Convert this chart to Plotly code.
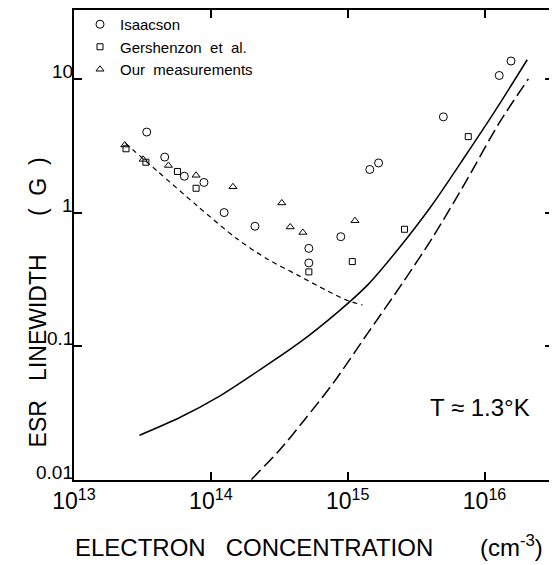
import math
import plotly.graph_objects as go

# ---------------- data ----------------
isaacson_x = [3.4e13, 4.6e13, 6.4e13, 8.9e13, 1.25e14, 2.1e14, 5.2e14, 5.2e14, 8.9e14,
              1.45e15, 1.68e15, 5.0e15, 1.28e16, 1.56e16]
isaacson_y = [4.0, 2.6, 1.87, 1.68, 1.0, 0.79, 0.54, 0.42, 0.66,
              2.1, 2.35, 5.2, 10.6, 13.6]

gersh_x = [2.4e13, 3.35e13, 5.7e13, 7.8e13, 5.2e14, 1.08e15, 2.6e15, 7.6e15]
gersh_y = [3.0, 2.38, 2.03, 1.52, 0.36, 0.43, 0.75, 3.7]

ours_x = [2.35e13, 3.2e13, 4.9e13, 7.8e13, 1.45e14, 3.3e14, 3.8e14, 4.7e14, 1.13e15]
ours_y = [3.2, 2.5, 2.25, 1.9, 1.56, 1.18, 0.78, 0.71, 0.87]

short_dash_x = [2.38e13, 4.07e13, 7.97e13, 1.56e14, 2.58e14, 4.28e14, 7.08e14, 1.01e15, 1.28e15]
short_dash_y = [3.29, 2.04, 1.12, 0.634, 0.45, 0.342, 0.26, 0.219, 0.204]

solid_x = [3.01e13, 5.88e13, 1.15e14, 2.24e14, 4.36e14, 8.5e14, 1.4e15, 2.31e15,
           4.12e15, 7.35e15, 1.21e16, 2.05e16]
solid_y = [0.0216, 0.0292, 0.0422, 0.0659, 0.105, 0.181, 0.288, 0.525,
           1.135, 2.72, 5.89, 13.9]

long_dash_x = [1.98e14, 3.17e14, 4.81e14, 7.9e14, 1.41e15, 2.52e15, 4.15e15,
               7.39e15, 1.27e16, 2.09e16]
long_dash_y = [0.0101, 0.0167, 0.028, 0.0537, 0.1265, 0.298, 0.645,
               1.74, 4.63, 10.0]

x_tickvals = [1e13, 1e14, 1e15, 1e16]
x_ticktext = ["10<sup>13</sup>", "10<sup>14</sup>", "10<sup>15</sup>", "10<sup>16</sup>"]
y_tickvals = [0.01, 0.1, 1, 10]
y_ticktext = ["0.01", "0.1", "1", "10"]
minor_mults = [2, 3, 4, 5]
x_minor = [m * 10 ** e for e in range(13, 17) for m in minor_mults]
y_minor = [m * 10 ** e for e in range(-2, 2) for m in minor_mults]

X_RANGE = [13, 16.5]
Y_RANGE = [-2, 1.515]

FONT = "Liberation Sans, Arial, Helvetica, sans-serif"

fig = go.Figure()

# curves
fig.add_trace(go.Scatter(x=short_dash_x, y=short_dash_y, mode="lines", showlegend=False,
                         line=dict(color="black", width=1.2, dash="5px,4px",
                                   shape="spline", smoothing=0.8)))
fig.add_trace(go.Scatter(x=solid_x, y=solid_y, mode="lines", showlegend=False,
                         line=dict(color="black", width=1.5, shape="spline", smoothing=0.8)))
fig.add_trace(go.Scatter(x=long_dash_x, y=long_dash_y, mode="lines", showlegend=False,
                         line=dict(color="black", width=1.5, dash="13px,5px",
                                   shape="spline", smoothing=0.8)))

# data points
fig.add_trace(go.Scatter(x=isaacson_x, y=isaacson_y, mode="markers", name="Isaacson",
                         marker=dict(symbol="circle-open", size=8, color="black",
                                     line=dict(width=1))))
fig.add_trace(go.Scatter(x=gersh_x, y=gersh_y, mode="markers", name="Gershenzon  et  al.",
                         marker=dict(symbol="square-open", size=6, color="black",
                                     line=dict(width=1))))
fig.add_trace(go.Scatter(x=ours_x, y=ours_y, mode="markers", name="Our  measurements",
                         marker=dict(symbol="triangle-up-open", size=7, color="black",
                                     line=dict(width=1))))

major_common = dict(type="log", showline=True, linecolor="black", linewidth=1.5,
                    mirror="ticks", ticks="inside", ticklen=8, tickwidth=1.5,
                    tickcolor="black", showgrid=False, zeroline=False, tickmode="array")
minor_common = dict(type="log", showline=False, mirror="ticks", ticks="inside",
                    ticklen=5, tickwidth=1.2, tickcolor="black", showgrid=False,
                    zeroline=False, tickmode="array", showticklabels=False)

fig.update_layout(
    xaxis=dict(range=X_RANGE, tickvals=x_tickvals, ticktext=x_ticktext,
               tickfont=dict(size=23, family=FONT, color="black"), **major_common),
    yaxis=dict(range=Y_RANGE, tickvals=y_tickvals, showticklabels=False, **major_common),
    # extra overlaid axes that carry the minor ticks (2,3,4,5 of each decade)
    xaxis2=dict(range=X_RANGE, tickvals=x_minor, overlaying="x", anchor="y", side="bottom",
                **minor_common),
    yaxis2=dict(range=Y_RANGE, tickvals=y_minor, overlaying="y", anchor="x", side="left",
                **minor_common),
)

# y tick labels placed right against the axis line, sitting on their tick as in the original
for v, t in zip(y_tickvals, y_ticktext):
    fig.add_annotation(text=t, xref="paper", yref="y", x=0, y=math.log10(v),
                       xanchor="right", yanchor="bottom", xshift=1, yshift=-5,
                       showarrow=False, font=dict(size=19, family=FONT, color="black"))

NB = "\u00a0"
# page has an 8px body margin: figure is 8px smaller, plot area placed to match
PL, PT, PR, PB = 66, 1, 4, 85
W, H = 549, 557
PW = W - PL - PR
PH = H - PT - PB
def px(xp):   # page x -> paper
    return (xp - 8 - PL) / PW
def py(yp):   # page y -> paper
    return (H - PB - (yp - 8)) / PH

fig.add_annotation(text="ELECTRON" + NB * 3 + "CONCENTRATION" + NB * 7 + "(cm<sup>-3</sup>)",
                   xref="paper", yref="paper", x=px(309), y=py(546),
                   xanchor="center", yanchor="middle", showarrow=False,
                   font=dict(size=24, family=FONT, color="black"))
fig.add_annotation(text="ESR" + NB * 3 + "LINEWIDTH" + NB * 6 + "(" + NB * 2 + "G" + NB * 2 + ")",
                   xref="paper", yref="paper", x=px(38), y=py(302),
                   xanchor="center", yanchor="middle", showarrow=False, textangle=-90,
                   font=dict(size=23, family=FONT, color="black"))
fig.add_annotation(text="T \u2248 1.3°K", xref="paper", yref="paper",
                   x=px(480), y=py(407),
                   xanchor="center", yanchor="middle", showarrow=False,
                   font=dict(size=24, family=FONT, color="black"))

fig.update_layout(
    width=W, height=H,
    margin=dict(l=PL, r=PR, t=PT, b=PB),
    paper_bgcolor="white", plot_bgcolor="white",
    font=dict(family=FONT, color="black"),
    legend=dict(x=px(80), y=py(8), xanchor="left", yanchor="top",
                bgcolor="rgba(0,0,0,0)", font=dict(size=15, family=FONT, color="black"),
                itemwidth=30, tracegroupgap=2),
)

fig.write_html("out.html")
